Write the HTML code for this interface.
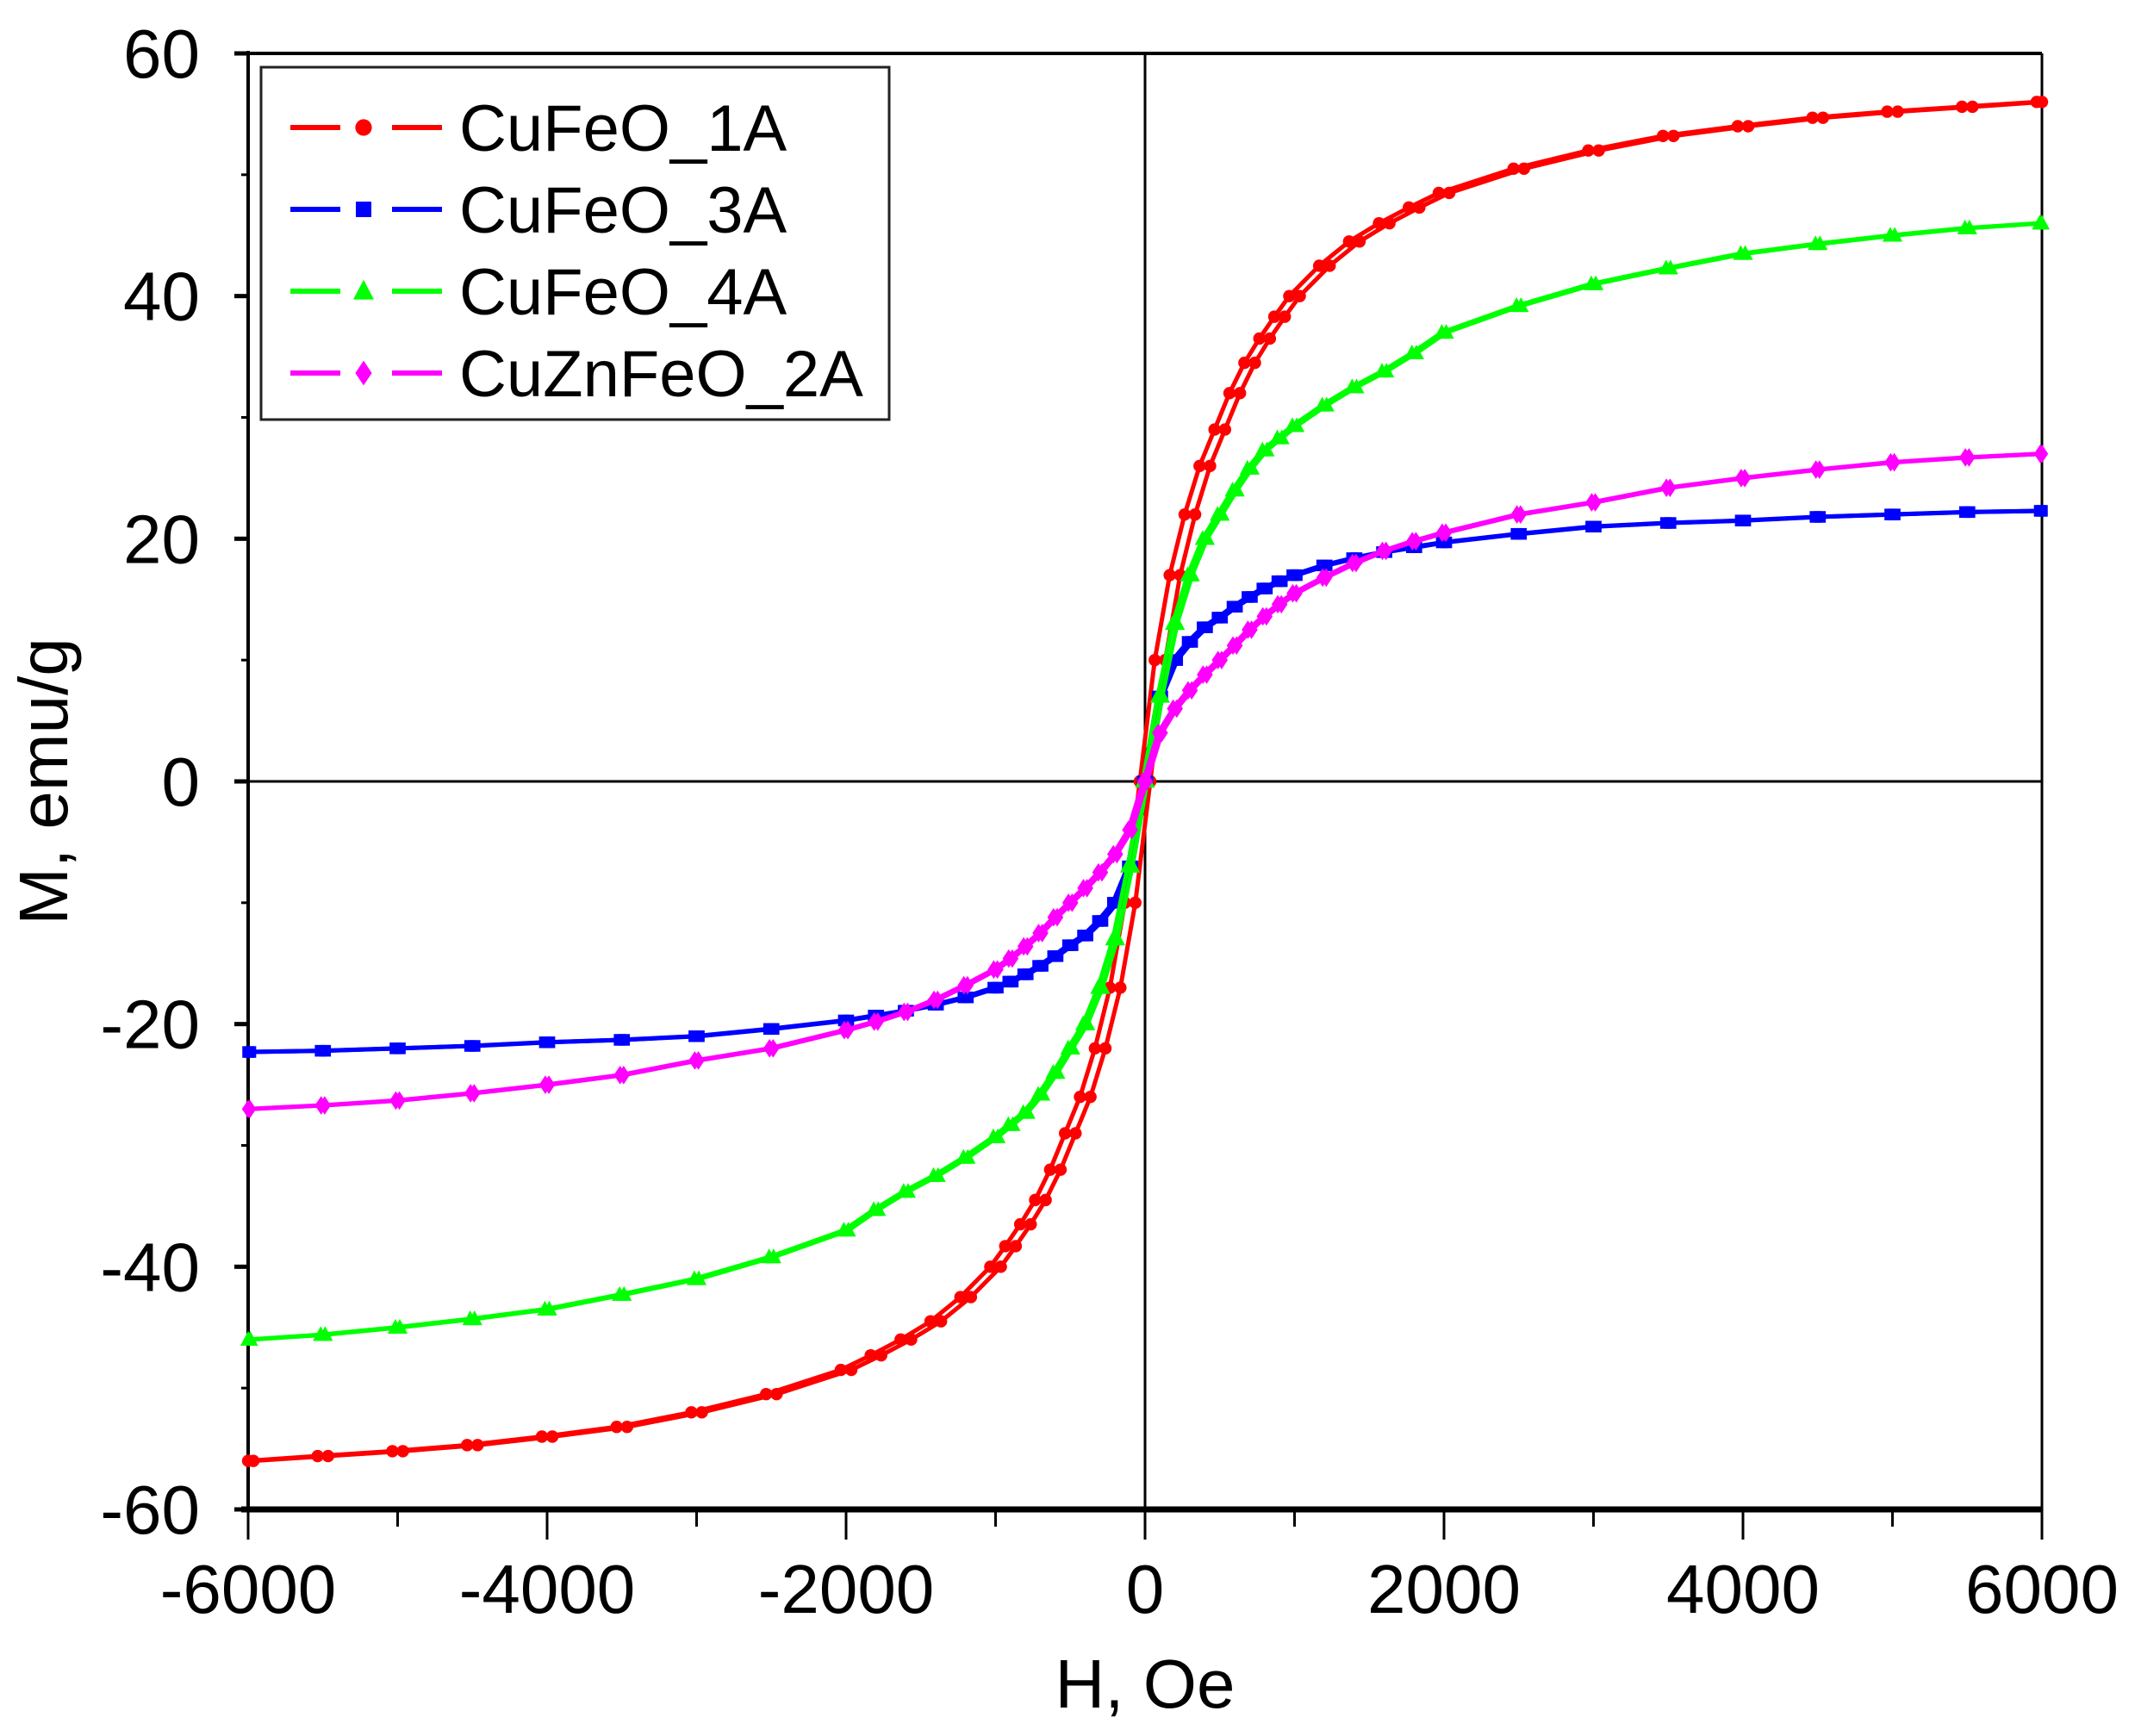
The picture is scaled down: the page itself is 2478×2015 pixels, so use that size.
<!DOCTYPE html>
<html><head><meta charset="utf-8"><style>
html,body{margin:0;padding:0;background:#fff;}
svg{display:block;font-family:"Liberation Sans",Arial,sans-serif;}
</style></head><body>
<svg id="chart" width="2478" height="2015" viewBox="0 0 2478 2015" xmlns="http://www.w3.org/2000/svg">
<rect width="2478" height="2015" fill="#fff"/>
<g id="plot"></g>
<g id="axes"></g>
<g id="series"></g>
<g id="legend"></g>
<text x="1329" y="1982" font-size="80" text-anchor="middle">H, Oe</text>
<text x="0" y="0" font-size="80" text-anchor="middle" transform="translate(78,907) rotate(-90)">M, emu/g</text>
</svg>
<script>
const fieldValues=[0,100,200,300,400,500,600,700,800,900,1000,1200,1400,1600,1800,2000,2500,3000,3500,4000,4500,5000,5500,6000];
const seriesNames=["CuFeO_1A","CuFeO_3A","CuFeO_4A","CuZnFeO_2A"];
const seriesColors=["#ff0000","#0000ff","#00ff00","#ff00ff"];
const seriesMarkers=["circle","square","triangle","diamond"];
const cuFeO1A=[0,10,17,22,26,29,32,34.5,36.5,38.3,40,42.5,44.5,46,47.3,48.5,50.5,52,53.2,54,54.7,55.2,55.6,56];
const cuFeO3A=[0,7,10,11.5,12.7,13.5,14.4,15.2,15.9,16.5,17,17.8,18.4,18.9,19.3,19.7,20.4,21,21.3,21.5,21.8,22,22.2,22.3];
const cuFeO4A=[0,7,13,17,20,22,24,25.8,27.3,28.3,29.3,31,32.5,33.8,35.3,37,39.2,41,42.3,43.5,44.3,45,45.6,46];
const cuZnFeO2A=[0,4,6,7.5,8.8,10,11.2,12.5,13.6,14.6,15.5,16.8,18,19,19.8,20.5,22,23,24.2,25,25.7,26.3,26.7,27];
const coercivity=[35,15,15,12];
const xTicks=[-6000,-4000,-2000,0,2000,4000,6000];
const yTicks=[-60,-40,-20,0,20,40,60];
const allSeries=[cuFeO1A,cuFeO3A,cuFeO4A,cuZnFeO2A];

const L=288,R=2370,T=62,B=1752;
const xs=h=>L+(h+6000)/12000*(R-L);
const ys=m=>B-(m+60)/120*(B-T);
const NS="http://www.w3.org/2000/svg";
function mk(tag,attrs,parent){const e=document.createElementNS(NS,tag);for(const k in attrs)e.setAttribute(k,attrs[k]);parent.appendChild(e);return e;}
const axes=document.getElementById('axes'),ser=document.getElementById('series'),leg=document.getElementById('legend');

let e;
e=mk('line',{x1:L,y1:T,x2:R,y2:T,stroke:'#000','stroke-width':4},axes);

e=mk('line',{x1:R,y1:T,x2:R,y2:B,stroke:'#000','stroke-width':3},axes);

e=mk('line',{x1:L,y1:T-3,x2:L,y2:B,stroke:'#000','stroke-width':4},axes);

e=mk('line',{x1:L-8,y1:B,x2:R,y2:B,stroke:'#000','stroke-width':7},axes);

e=mk('line',{x1:xs(0),y1:T,x2:xs(0),y2:B,stroke:'#000','stroke-width':3},axes);

e=mk('line',{x1:L,y1:ys(0),x2:R,y2:ys(0),stroke:'#000','stroke-width':3},axes);


for(let h=-6000;h<=6000;h+=1000){
  const major=h%2000===0;
  e=mk('line',{x1:xs(h),y1:B,x2:xs(h),y2:B+(major?35:20),stroke:'#000','stroke-width':3},axes);
  
}
xTicks.forEach(v=>{
  e=mk('text',{x:xs(v),y:1872,'font-size':80,'text-anchor':'middle'},axes);e.textContent=v;
  
});
for(let m=-60;m<=60;m+=10){
  const major=m%20===0;
  e=mk('line',{x1:L-(major?16:8),y1:ys(m),x2:L,y2:ys(m),stroke:'#000','stroke-width':major?5:3},axes);
  
}
yTicks.forEach(v=>{
  e=mk('text',{x:232,y:ys(v)+28,'font-size':80,'text-anchor':'end'},axes);e.textContent=v;
  
});

function marker(type,x,y,s,color,parent){
  let m;
  if(type==='circle')m=mk('circle',{cx:x,cy:y,r:s*0.8,fill:color},parent);
  else if(type==='square')m=mk('rect',{x:x-s*0.75,y:y-s*0.75,width:s*1.5,height:s*1.5,fill:color},parent);
  else if(type==='triangle')m=mk('polygon',{points:`${x},${y-s*1.1} ${x-s},${y+s*0.8} ${x+s},${y+s*0.8}`,fill:color},parent);
  else m=mk('polygon',{points:`${x},${y-s*1.2} ${x-s*0.8},${y} ${x},${y+s*1.2} ${x+s*0.8},${y}`,fill:color},parent);
  return m;
}

allSeries.forEach((vals,i)=>{
  const g=mk('g',{},ser);
  
  
  const H=[],M=[];
  for(let k=fieldValues.length-1;k>0;k--){H.push(-fieldValues[k]);M.push(-vals[k]);}
  for(let k=0;k<fieldValues.length;k++){H.push(fieldValues[k]);M.push(vals[k]);}
  [1,-1].forEach(dir=>{
    const hc=coercivity[i]*dir;
    const pts=H.map((h,k)=>[xs(Math.max(-6000,Math.min(6000,h+hc))),ys(M[k])]);
    e=mk('polyline',{points:pts.map(p=>p.join(',')).join(' '),fill:'none',stroke:seriesColors[i],'stroke-width':5,'stroke-linejoin':'round'},g);
    
    pts.forEach(p=>{
      e=marker(seriesMarkers[i],p[0],p[1],9,seriesColors[i],g);
      
    });
  });
});

e=mk('rect',{x:303,y:78,width:729,height:409,fill:'#fff',stroke:'#222','stroke-width':3},leg);

const ly=[148,243,338,433];
seriesNames.forEach((n,i)=>{
  const g=mk('g',{},leg);
  
  
  mk('line',{x1:337,y1:ly[i],x2:395,y2:ly[i],stroke:seriesColors[i],'stroke-width':6},g);
  mk('line',{x1:455,y1:ly[i],x2:513,y2:ly[i],stroke:seriesColors[i],'stroke-width':6},g);
  marker(seriesMarkers[i],422,ly[i],12,seriesColors[i],g);
  const t=mk('text',{x:533,y:ly[i]+27,'font-size':76},g);t.textContent=n;
});
</script>
</body></html>
